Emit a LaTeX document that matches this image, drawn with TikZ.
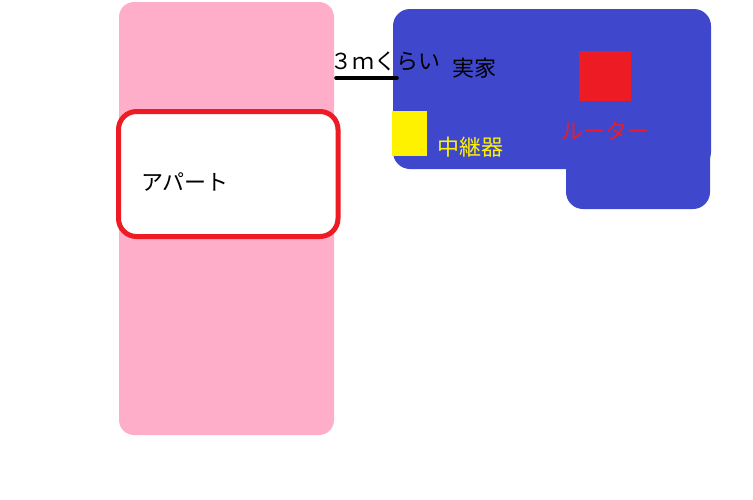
\documentclass[tikz,border=0pt]{standalone}
\usepackage{fontspec}
\newfontfamily\jpfont{Noto Sans CJK JP}
\definecolor{pinkA}{HTML}{FFAEC9}
\definecolor{blueA}{HTML}{3F48CC}
\definecolor{redA}{HTML}{ED1C24}
\definecolor{yellowA}{HTML}{FFF200}
\tikzset{
  lbl/.style={font=\jpfont\fontsize{22}{25}\selectfont, inner sep=0pt, anchor=base},
}
\begin{document}
\begin{tikzpicture}[x=1pt,y=-1pt]
\useasboundingbox (0,0) rectangle (753,499);
% apartment area
\fill[pinkA, rounded corners=15] (119,2) rectangle (334,435);
\node[draw=redA, line width=5, rounded corners=18, fill=white, minimum width=219.5, minimum height=125, inner sep=0] (apt) at (228.25,174) {};
\node[lbl, anchor=base west] (aptl) at (141,190) {アパート};
% parents' house
\fill[blueA, rounded corners=17] (393,9) rectangle (711,169);
\fill[blueA, rounded corners=17] (566,110) rectangle (710,209);
\coordinate (house) at (396.5,78);
\node[fill=redA, minimum width=52, minimum height=50, inner sep=0] (router) at (605.3,75.8) {};
\node[fill=yellowA, minimum width=35, minimum height=45, inner sep=0] (rep) at (409.5,133.3) {};
\node[lbl, anchor=base west] (jk) at (452,76) {実家};
\node[lbl, anchor=base west, text=yellowA] (repl) at (437,155) {中継器};
\node[lbl, anchor=base west, text=redA] (routl) at (561,139) {ルーター};
% distance
\coordinate (edge) at (336.5,78);
\draw[line width=4.7, line cap=round] (edge) -- (house);
\node[lbl, anchor=base west] (dist) at (330,69) {３ｍくらい};
\end{tikzpicture}
\end{document}
